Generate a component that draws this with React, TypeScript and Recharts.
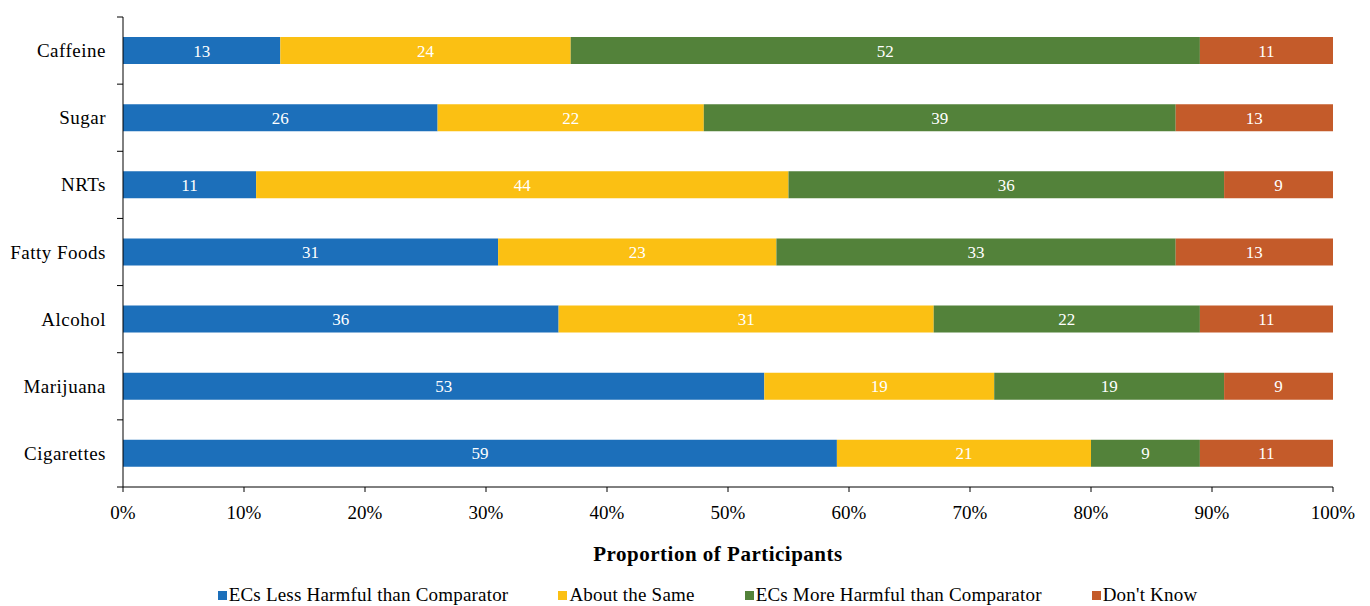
import { BarChart, Bar, XAxis, YAxis, Legend, LabelList } from 'recharts'

const categories = ['Caffeine', 'Sugar', 'NRTs', 'Fatty Foods', 'Alcohol', 'Marijuana', 'Cigarettes']
const lessHarmful = [13, 26, 11, 31, 36, 53, 59]
const aboutSame = [24, 22, 44, 23, 31, 19, 21]
const moreHarmful = [52, 39, 36, 33, 22, 19, 9]
const dontKnow = [11, 13, 9, 13, 11, 9, 11]
const xTicks = [0, 10, 20, 30, 40, 50, 60, 70, 80, 90, 100]

const SERIES = [
  { key: 'less', name: 'ECs Less Harmful than Comparator', color: '#1c6fba' },
  { key: 'same', name: 'About the Same', color: '#fbc013' },
  { key: 'more', name: 'ECs More Harmful than Comparator', color: '#53823a' },
  { key: 'dk', name: "Don't Know", color: '#c45b2a' },
]

const data = categories.map((name, i) => ({
  name,
  less: lessHarmful[i],
  same: aboutSame[i],
  more: moreHarmful[i],
  dk: dontKnow[i],
}))

const FONT = '"Liberation Serif", "Times New Roman", serif'

function CategoryTick(props: any) {
  const { x, y, payload, index, visibleTicksCount } = props
  const half = payload?.offset ?? 470 / 14
  const lx = x + 11
  return (
    <g>
      <text
        x={x}
        y={y}
        textAnchor="end"
        dominantBaseline="central"
        fontFamily={FONT}
        fontSize={19}
        letterSpacing={0.5}
        fill="#000"
      >
        {payload.value}
      </text>
      <line x1={lx} x2={lx + 6} y1={y - half} y2={y - half} stroke="#000" />
      {index === visibleTicksCount - 1 && (
        <line x1={lx} x2={lx + 6} y1={y + half} y2={y + half} stroke="#000" />
      )}
    </g>
  )
}

function LegendContent() {
  return (
    <div
      style={{
        display: 'flex',
        justifyContent: 'center',
        gap: 50,
        paddingTop: 8,
        paddingLeft: 82,
        fontFamily: FONT,
        fontSize: 19,
        letterSpacing: 0.2,
        color: '#000',
      }}
    >
      {SERIES.map((s) => (
        <span key={s.key} style={{ display: 'flex', alignItems: 'center' }}>
          <span style={{ width: 9, height: 9, background: s.color, marginRight: 2, display: 'inline-block' }} />
          {s.name}
        </span>
      ))}
    </div>
  )
}

export default function App() {
  return (
    <div style={{ position: 'absolute', left: 0, top: 0, width: 1370, height: 606, background: '#fff' }}>
      <BarChart
        width={1370}
        height={606}
        data={data}
        layout="vertical"
        margin={{ top: 17, right: 37, bottom: 0, left: 0 }}
      >
        <XAxis
          type="number"
          domain={[0, 100]}
          ticks={xTicks}
          tickFormatter={(v) => `${v}%`}
          height={89}
          tickSize={5}
          tickMargin={14}
          stroke="#000"
          tick={{ fill: '#000', fontFamily: FONT, fontSize: 19 }}
          label={{
            content: ({ viewBox }: any) => (
              <text
                x={viewBox.x + viewBox.width / 2 - 10}
                y={viewBox.y + 67}
                textAnchor="middle"
                dominantBaseline="central"
                fontFamily={FONT}
                fontSize={21}
                letterSpacing={0.5}
                fontWeight="bold"
                fill="#000"
              >
                Proportion of Participants
              </text>
            ),
          }}
        />
        <YAxis
          type="category"
          dataKey="name"
          width={123}
          tickSize={6}
          tickMargin={11}
          tickLine={false}
          stroke="#000"
          tick={<CategoryTick />}
        />
        <Legend verticalAlign="bottom" height={30} content={<LegendContent />} />
        {SERIES.map((s) => (
          <Bar key={s.key} dataKey={s.key} name={s.name} stackId="a" fill={s.color} barSize={27} isAnimationActive={false}>
            <LabelList dataKey={s.key} position="center" fill="#fff" fontFamily={FONT} fontSize={17} />
          </Bar>
        ))}
      </BarChart>
    </div>
  )
}
